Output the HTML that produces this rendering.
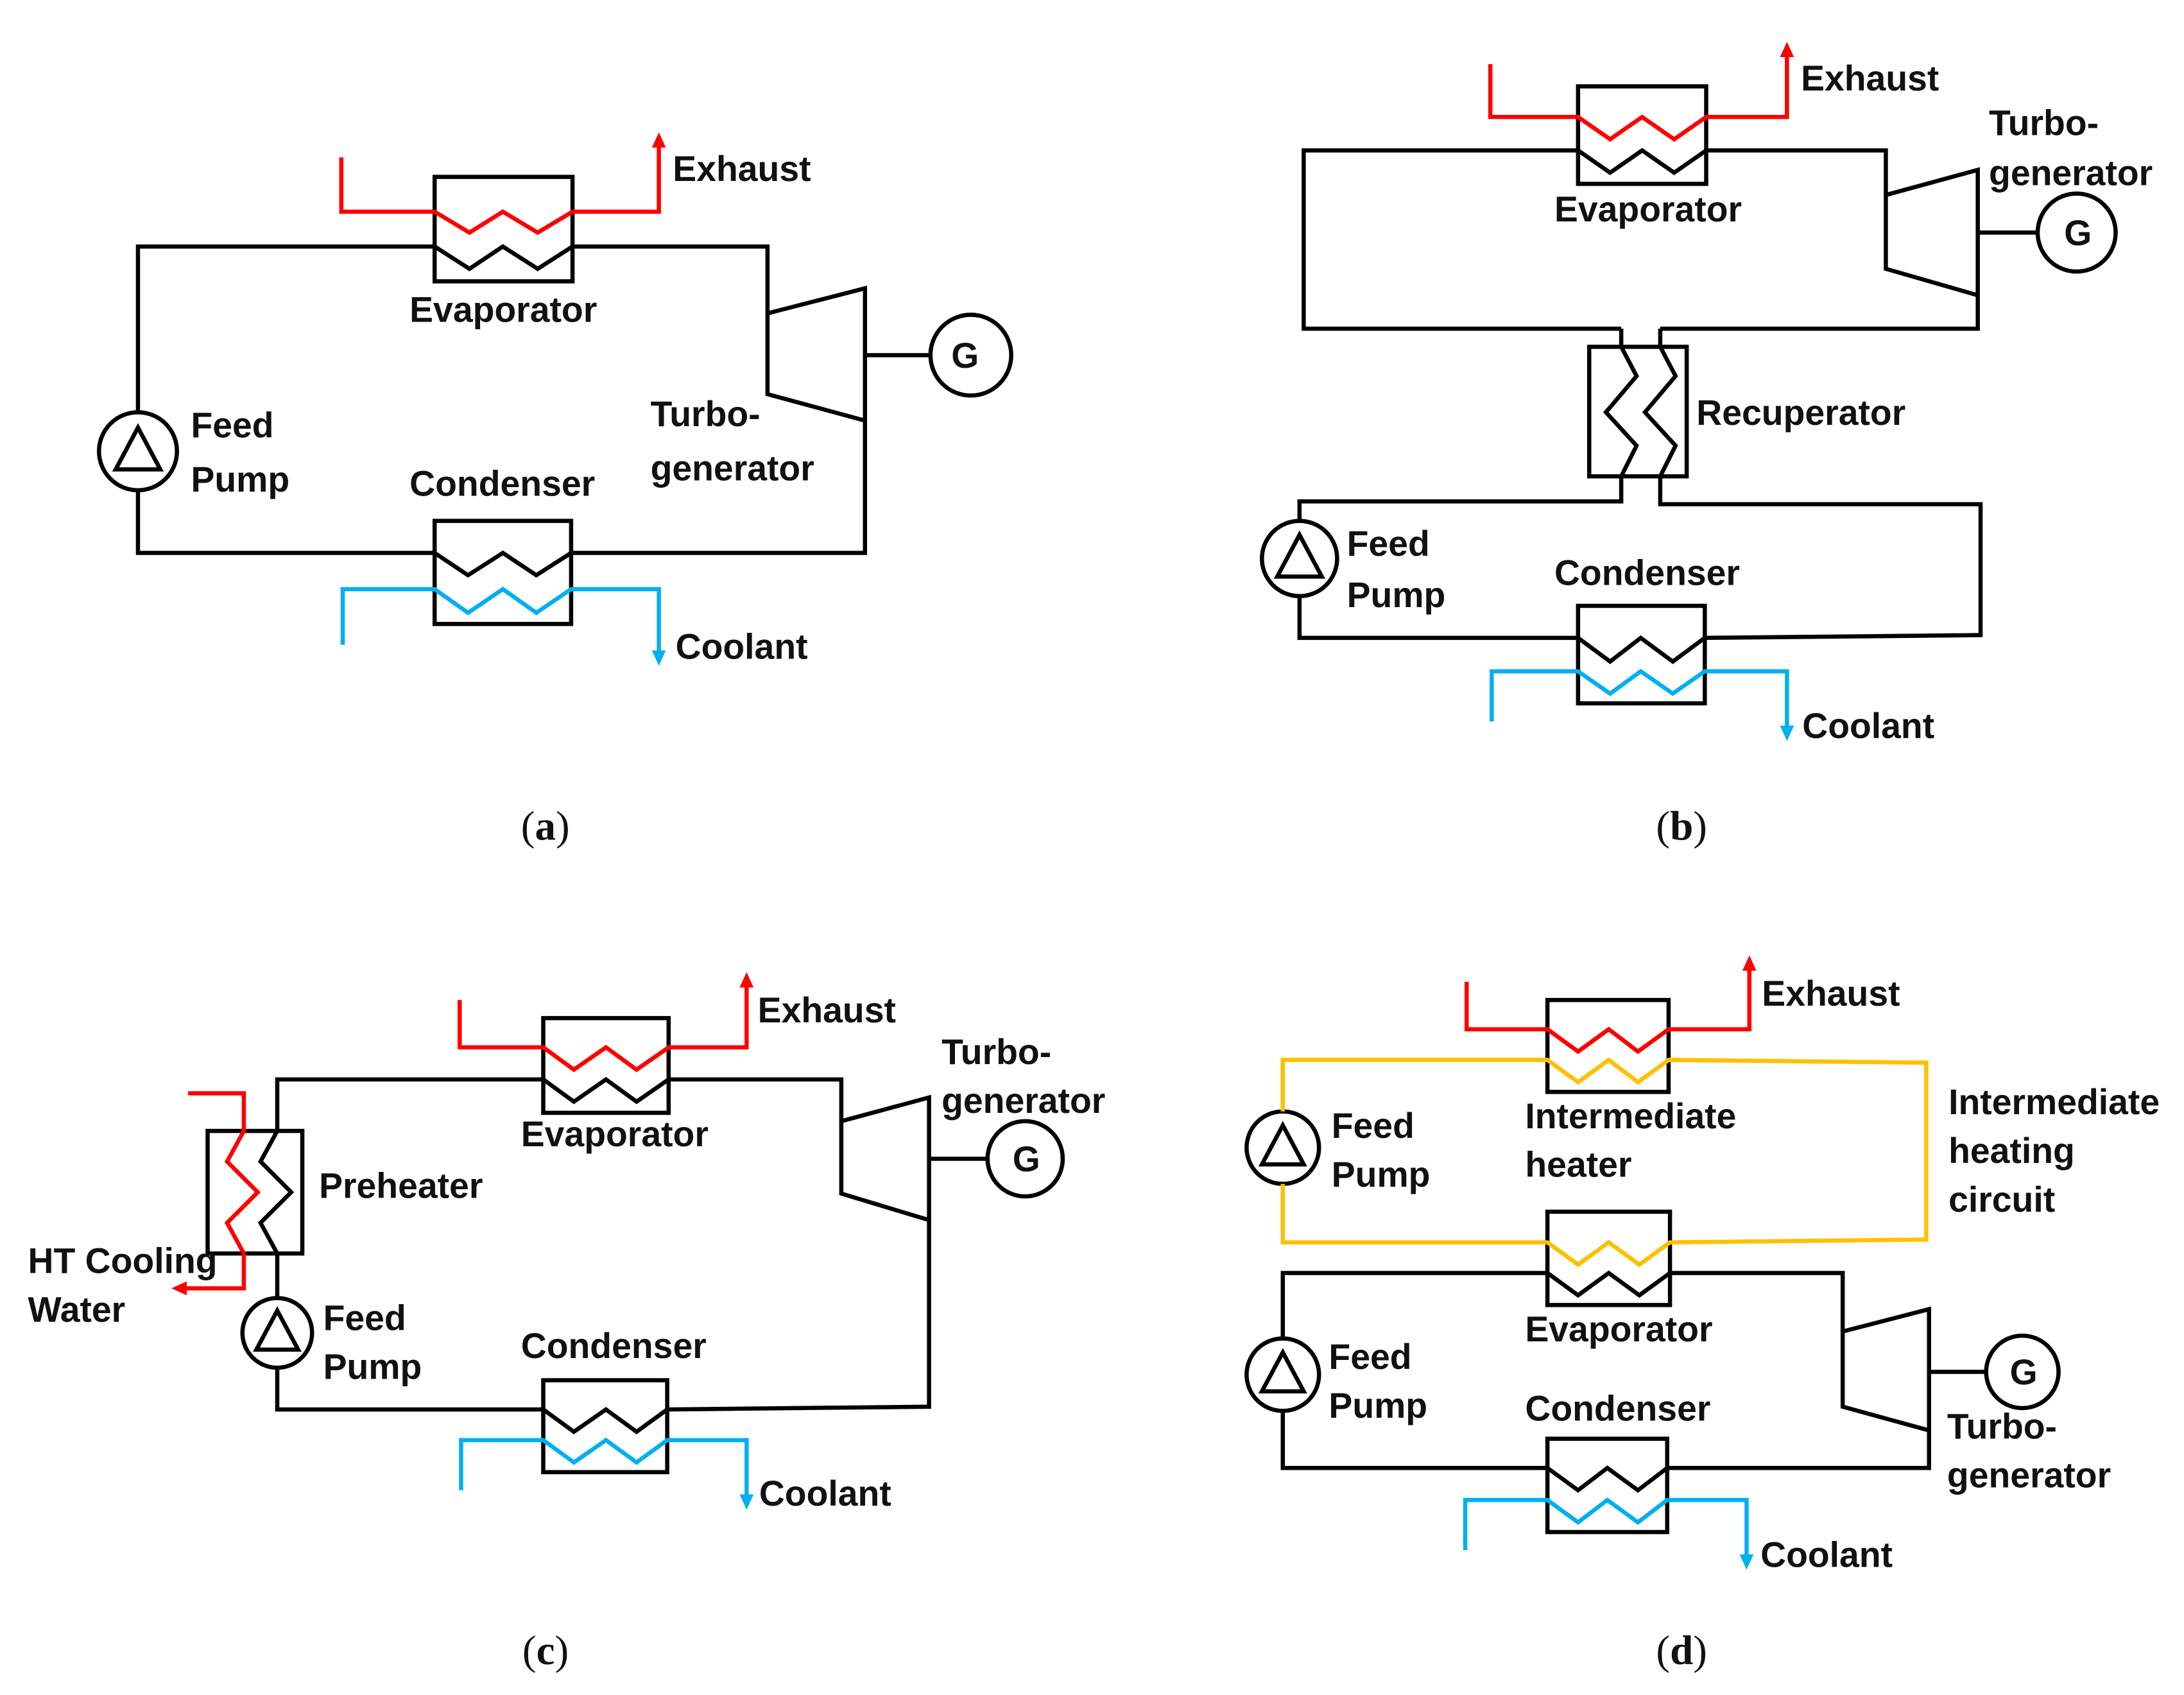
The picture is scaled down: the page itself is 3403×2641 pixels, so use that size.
<!DOCTYPE html>
<html><head><meta charset="utf-8"><style>
html,body{margin:0;padding:0;background:#fff;}
svg{display:block;}
text{font-family:"Liberation Sans",sans-serif;font-weight:bold;font-size:25.5px;fill:#111;}
.cap{font-family:"Liberation Serif",serif;font-weight:normal;font-size:30px;}
</style></head><body>
<svg width="3403" height="2641" viewBox="0 0 1568 1217" xmlns="http://www.w3.org/2000/svg">
<g fill="none" stroke-width="3" stroke-linejoin="miter">
<g stroke="#000">
<rect x="312" y="127" width="99" height="75"/>
<rect x="312" y="374" width="98" height="74"/>
<polyline points="99,296 99,177 312,177"/>
<polyline points="312,177 337,193 361,177 386,193 411,177"/>
<polyline points="411,177 551,177 551,225"/>
<polygon points="551,225 621,207 621,302 551,283"/>
<line x1="621" y1="255" x2="668" y2="255"/>
<circle cx="697" cy="255" r="29"/>
<polyline points="621,302 621,397 410,397"/>
<polyline points="312,397 336,413 361,397 385,413 410,397"/>
<polyline points="312,397 99,397 99,352"/>
<circle cx="99" cy="324" r="28"/>
<polygon points="99,307 83,337 115,337"/>
</g>
<polyline stroke="#f00" points="245,113 245,152 312,152 337,167 361,152 386,167 411,152 473,152 473,104"/>
<polyline stroke="#00b0f0" points="246,463 246,423 312,423 336,440 361,423 385,440 410,423 473,423 473,470"/>
<g stroke="#000">
<rect x="1133" y="62" width="92" height="70"/>
<rect x="1133" y="435" width="91" height="70"/>
<rect x="1141" y="249" width="70" height="93"/>
<polyline points="1164,236 936,236 936,108 1133,108 1156,124 1179,108 1202,124 1225,108 1354,108 1354,140"/>
<polygon points="1354,140 1420,122 1420,212 1354,193"/>
<line x1="1420" y1="167" x2="1463" y2="167"/>
<circle cx="1491" cy="167" r="28"/>
<polyline points="1420,212 1420,236 1192,236"/>
<polyline points="1164,236 1164,249 1175,270 1153,296 1175,320 1164,342 1164,360 933,360 933,374"/>
<polyline points="1192,236 1192,249 1203,270 1181,296 1203,320 1192,342 1192,362 1422,362 1422,456 1224,458"/>
<circle cx="933" cy="401" r="27"/>
<polygon points="933,384 917,414 949,414"/>
<polyline points="933,428 933,458 1133,458 1156,475 1178,458 1201,475 1224,458"/>
</g>
<polyline stroke="#f00" points="1070,46 1070,84 1133,84 1156,100 1179,84 1202,100 1225,84 1283,84 1283,39"/>
<polyline stroke="#00b0f0" points="1071,518 1071,482 1133,482 1156,498 1178,482 1201,498 1224,482 1283,482 1283,524"/>
<g stroke="#000">
<rect x="390" y="731" width="90" height="68"/>
<rect x="390" y="991" width="89" height="66"/>
<rect x="149" y="812" width="68" height="88"/>
<polyline points="199,812 199,775 390,775 412,791 435,775 457,791 480,775 604,775 604,805"/>
<polygon points="604,805 667,788 667,876 604,857"/>
<line x1="667" y1="832" x2="709" y2="832"/>
<circle cx="736" cy="832" r="27"/>
<polyline points="667,876 667,1010 479,1012"/>
<polyline points="199,812 187,834 209,856 187,878 199,900 199,932"/>
<circle cx="199" cy="957" r="25"/>
<polygon points="199,941 184,969 214,969"/>
<polyline points="199,982 199,1012 390,1012 412,1028 435,1012 457,1028 479,1012"/>
</g>
<polyline stroke="#f00" points="330,718 330,752 390,752 412,768 435,752 457,768 480,752 536,752 536,706"/>
<polyline stroke="#f00" points="135,785 175,785 175,812 163,834 185,856 163,878 175,900 175,925 131,925"/>
<polyline stroke="#00b0f0" points="331,1070 331,1034 390,1034 412,1050 435,1034 457,1050 479,1034 536,1034 536,1076"/>
<g stroke="#000">
<rect x="1111" y="718" width="87" height="66"/>
<rect x="1111" y="870" width="88" height="67"/>
<rect x="1111" y="1033" width="86" height="67"/>
<polyline points="921,961 921,914 1111,914 1133,930 1155,914 1177,930 1199,914 1323,914 1323,956"/>
<polygon points="1323,956 1385,940 1385,1027 1323,1010"/>
<line x1="1385" y1="985" x2="1426" y2="985"/>
<circle cx="1452" cy="985" r="26"/>
<polyline points="1385,1027 1385,1054 1197,1054"/>
<circle cx="921" cy="987" r="26"/>
<polygon points="921,971 906,999 936,999"/>
<polyline points="921,1013 921,1054 1111,1054 1133,1070 1154,1054 1176,1070 1197,1054"/>
<circle cx="921" cy="824" r="26"/>
<polygon points="921,808 906,836 936,836"/>
</g>
<g stroke="#ffc000">
<polyline points="921,798 921,761 1111,761 1133,777 1155,761 1176,777 1198,761 1383,763 1383,890 1199,892 1177,908 1155,892 1133,908 1111,892 921,892 921,850"/>
</g>
<polyline stroke="#f00" points="1053,705 1053,739 1111,739 1133,755 1155,739 1176,755 1198,739 1256,739 1256,694"/>
<polyline stroke="#00b0f0" points="1052,1113 1052,1077 1111,1077 1133,1093 1154,1077 1176,1093 1197,1077 1254,1077 1254,1119"/>
</g>
<g stroke="none">
<polygon fill="#f00" points="473,95 468,106 478,106"/>
<polygon fill="#00b0f0" points="473,478 468,467 478,467"/>
<polygon fill="#f00" points="1283,30 1278,41 1288,41"/>
<polygon fill="#00b0f0" points="1283,532 1278,521 1288,521"/>
<polygon fill="#f00" points="536,698 531,709 541,709"/>
<polygon fill="#f00" points="123,925 134,920 134,930"/>
<polygon fill="#00b0f0" points="536,1084 531,1073 541,1073"/>
<polygon fill="#f00" points="1256,686 1251,697 1261,697"/>
<polygon fill="#00b0f0" points="1254,1127 1249,1116 1259,1116"/>
</g>
<text x="483" y="130">Exhaust</text>
<text x="294" y="231">Evaporator</text>
<text x="683" y="264">G</text>
<text x="137" y="314">Feed</text>
<text x="137" y="353">Pump</text>
<text x="294" y="356">Condenser</text>
<text x="467" y="306">Turbo-</text>
<text x="467" y="345">generator</text>
<text x="485" y="473">Coolant</text>
<text class="cap" x="374" y="603">(<tspan font-weight="bold">a</tspan>)</text>
<text x="1293" y="65">Exhaust</text>
<text x="1428" y="97">Turbo-</text>
<text x="1428" y="133">generator</text>
<text x="1482" y="176">G</text>
<text x="1116" y="159">Evaporator</text>
<text x="1218" y="305">Recuperator</text>
<text x="967" y="399">Feed</text>
<text x="967" y="436">Pump</text>
<text x="1116" y="420">Condenser</text>
<text x="1294" y="530">Coolant</text>
<text class="cap" x="1189" y="603">(<tspan font-weight="bold">b</tspan>)</text>
<text x="544" y="734">Exhaust</text>
<text x="676" y="764">Turbo-</text>
<text x="676" y="799">generator</text>
<text x="727" y="841">G</text>
<text x="374" y="823">Evaporator</text>
<text x="229" y="860">Preheater</text>
<text x="20" y="914">HT Cooling</text>
<text x="20" y="949">Water</text>
<text x="232" y="955">Feed</text>
<text x="232" y="990">Pump</text>
<text x="374" y="975">Condenser</text>
<text x="545" y="1081">Coolant</text>
<text class="cap" x="375" y="1195">(<tspan font-weight="bold">c</tspan>)</text>
<text x="1265" y="722">Exhaust</text>
<text x="1095" y="810">Intermediate</text>
<text x="1095" y="845">heater</text>
<text x="1399" y="800">Intermediate</text>
<text x="1399" y="835">heating</text>
<text x="1399" y="870">circuit</text>
<text x="956" y="817">Feed</text>
<text x="956" y="852">Pump</text>
<text x="954" y="983">Feed</text>
<text x="954" y="1018">Pump</text>
<text x="1095" y="963">Evaporator</text>
<text x="1095" y="1020">Condenser</text>
<text x="1443" y="994">G</text>
<text x="1398" y="1033">Turbo-</text>
<text x="1398" y="1068">generator</text>
<text x="1264" y="1125">Coolant</text>
<text class="cap" x="1189" y="1195">(<tspan font-weight="bold">d</tspan>)</text>
</svg>
</body></html>
